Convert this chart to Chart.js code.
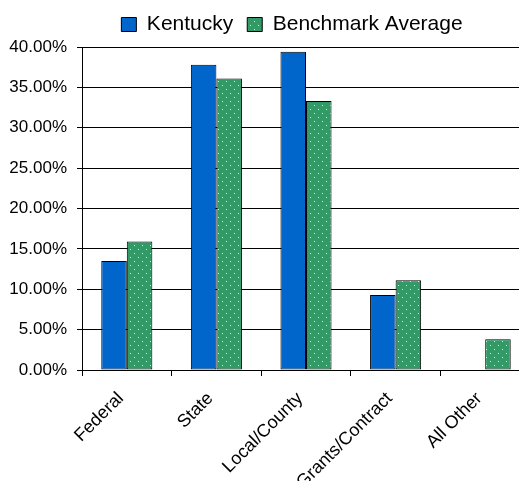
<!DOCTYPE html>
<html>
<head>
<meta charset="utf-8">
<script src="https://cdn.jsdelivr.net/npm/chart.js@4/dist/chart.umd.min.js"></script>
<style>
  html, body { margin: 0; padding: 0; background: #fff; overflow: hidden; }
  #wrap { position: relative; width: 519px; height: 481px; overflow: hidden; }
  #box { position: absolute; left: 0; top: 0; width: 532px; height: 481px; }
</style>
</head>
<body>
<div id="wrap"><div id="box"><canvas id="fundingChart"></canvas></div></div>
<script>
let categories = ["Federal", "State", "Local/County", "Grants/Contract", "All Other"];
let kentucky = [13.5, 37.8, 39.4, 9.3, 0];
let benchmark = [15.9, 36.1, 33.3, 11.1, 3.8];
let yTicks = [0, 5, 10, 15, 20, 25, 30, 35, 40];

let mainChart = null;

function dottedGreen(){
    let tile = document.createElement("canvas");
    tile.width = 8;
    tile.height = 8;
    let c = tile.getContext("2d");
    c.fillStyle = "#339966";
    c.fillRect(0, 0, 8, 8);
    c.fillStyle = "#d8eee2";
    c.fillRect(2, 1, 1, 1);
    c.fillRect(6, 5, 1, 1);
    return c.createPattern(tile, "repeat");
}

// legend sits over the plot area, not the whole canvas
let legendTweak = {
    id: "legendTweak",
    beforeUpdate(chart){
        let lg = chart.legend;
        if(lg && !lg._tweaked){
            let fit = lg.fit;
            lg.fit = function(){ fit.call(this); this.height = 47; };
            lg._tweaked = true;
        }
    },
    afterLayout(chart){
        chart.legend.left += 27;
        chart.legend.right += 27;
    }
};

function showChart(){
    let ctx = document.getElementById("fundingChart").getContext("2d");
    mainChart = new Chart(ctx, {
        type: "bar",
        data: {
            labels: categories,
            datasets: [{
                label: "Kentucky",
                data: kentucky,
                backgroundColor: "#0066cc",
                borderColor: "#000000",
                borderWidth: 1,
                borderSkipped: false
            },
            {
                label: "Benchmark Average",
                data: benchmark,
                backgroundColor: dottedGreen(),
                borderColor: "#000000",
                borderWidth: 1,
                borderSkipped: false
            }]
        },
        plugins: [legendTweak],
        options: {
            responsive: true,
            maintainAspectRatio: false,
            animation: false,
            layout: { padding: { left: 0, right: 2, top: 0, bottom: 0 } },
            datasets: {
                bar: { categoryPercentage: 0.57, barPercentage: 1.0 }
            },
            plugins: {
                legend: {
                    position: "top",
                    labels: {
                        boxWidth: 15,
                        boxHeight: 14,
                        padding: 14,
                        color: "#000",
                        font: { family: "'Liberation Sans', Arial, sans-serif", size: 21 }
                    }
                },
                tooltip: { enabled: false }
            },
            scales: {
                x: {
                    afterFit: (scale) => { scale.height = 111; },
                    grid: {
                        offset: true,
                        drawOnChartArea: false,
                        drawTicks: true,
                        tickLength: 6,
                        color: "#000"
                    },
                    border: { display: true, color: "#000", width: 1 },
                    ticks: {
                        autoSkip: false,
                        minRotation: 45,
                        maxRotation: 45,
                        padding: 12,
                        labelOffset: -6,
                        color: "#000",
                        font: { family: "'Liberation Sans', Arial, sans-serif", size: 18 }
                    }
                },
                y: {
                    min: 0,
                    max: 40,
                    afterFit: (scale) => { scale.width = 82; },
                    afterBuildTicks: (scale) => { scale.ticks = yTicks.map(v => ({ value: v })); },
                    grid: {
                        color: "#000",
                        lineWidth: 1,
                        drawTicks: true,
                        tickLength: 5
                    },
                    border: { display: true, color: "#000", width: 1 },
                    ticks: {
                        padding: 10,
                        color: "#000",
                        font: { family: "'Liberation Sans', Arial, sans-serif", size: 17 },
                        callback: (v) => v.toFixed(2) + "%"
                    }
                }
            }
        }
    });
}

showChart();
</script>
</body>
</html>
